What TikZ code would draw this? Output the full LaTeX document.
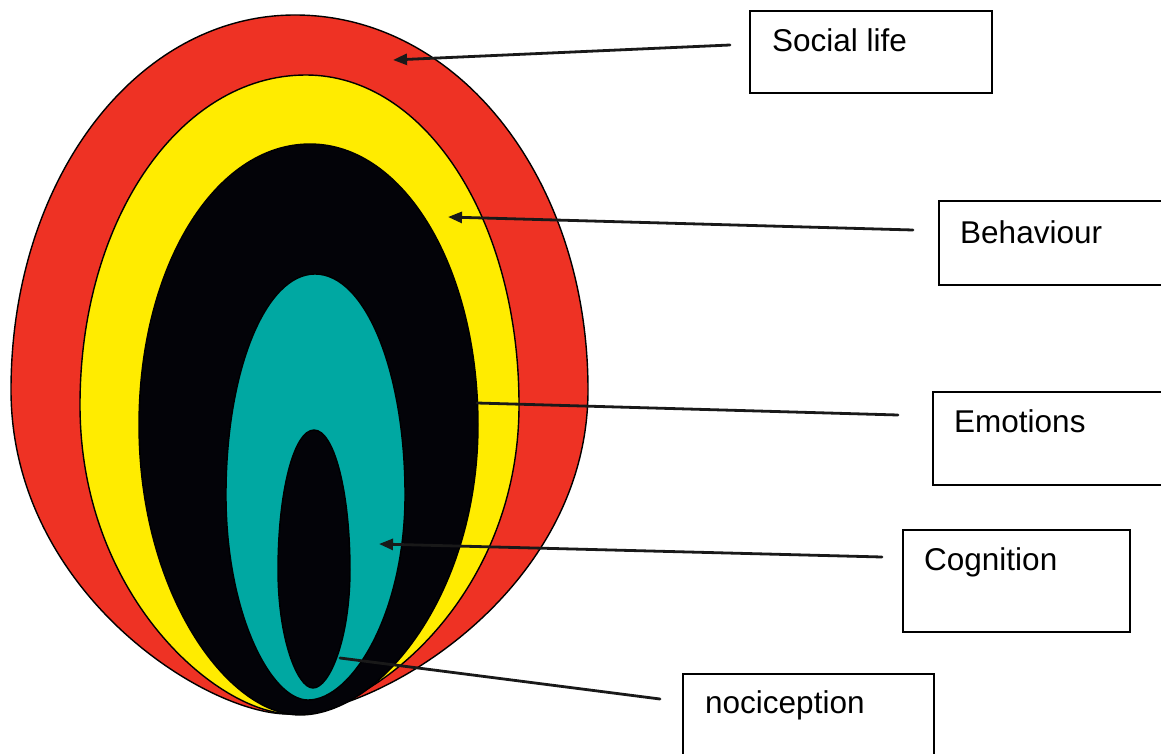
\documentclass[tikz,border=0pt]{standalone}
\usepackage{fontspec}
\setmainfont{Liberation Sans}
\usetikzlibrary{arrows.meta}
\definecolor{eggred}{RGB}{238,50,36}
\definecolor{eggyellow}{RGB}{255,236,0}
\definecolor{eggteal}{RGB}{0,168,162}
\definecolor{eggblack}{RGB}{3,3,8}
% lower-half handle factors (side, bottom)
\newcommand\eggSide{0.58}
\newcommand\eggBot{0.45}
\newcommand\eggshape[8]{%
  \pgfmathsetmacro\eggUa{#2-0.56*(#2-#4)}%
  \pgfmathsetmacro\eggUb{#5-0.56*(#5-#3)}%
  \pgfmathsetmacro\eggLa{#5+\eggSide*(#8-#5)}%
  \pgfmathsetmacro\eggLb{#7-\eggBot*(#7-#4)}%
  \pgfmathsetmacro\eggLc{#7+\eggBot*(#6-#7)}%
  \pgfmathsetmacro\eggUc{#2+0.56*(#6-#2)}%
  \path[#1] (#2,#3) .. controls (\eggUa,#3) and (#4,\eggUb) .. (#4,#5)
    .. controls (#4,\eggLa) and (\eggLb,#8) .. (#7,#8)
    .. controls (\eggLc,#8) and (#6,\eggLa) .. (#6,#5)
    .. controls (#6,\eggUb) and (\eggUc,#3) .. cycle;}
\tikzset{
  layer/.style={draw=black, line width=1.4pt, fill=#1},
  labelbox/.style={draw=black, line width=2.4pt, rectangle, inner sep=0pt, anchor=north west},
  labeltext/.style={anchor=base west, inner sep=0pt, font=\fontsize{31.5}{38}\selectfont},
  pointer/.style={draw=black!90, line width=2.8pt, line cap=round},
  pointerarrow/.style={pointer, -{Triangle[length=14pt,width=11pt]}}
}
\begin{document}
\begin{tikzpicture}[x=1pt,y=-1pt]
\useasboundingbox (0,0) rectangle (1161,754);
\clip (0,0) rectangle (1161,754);
\fill[white] (0,0) rectangle (1161,754);
% nested layers
\renewcommand\eggSide{0.62}\renewcommand\eggBot{0.3}
\eggshape{layer=eggred}{295}{15}{11}{390}{588}{288}{714}
\renewcommand\eggSide{0.62}\renewcommand\eggBot{0.35}
\eggshape{layer=eggyellow}{306}{75}{80}{405}{519}{292}{714}
\renewcommand\eggSide{0.58}\renewcommand\eggBot{0.45}
\eggshape{layer=eggblack}{310}{144}{139}{425}{478}{300}{715}
\eggshape{layer=eggteal}{315}{274}{226}{495}{405}{308}{700}
\eggshape{layer=eggblack}{314}{430}{278}{570}{350}{313}{688}
% label boxes
\node[labelbox, minimum width=242pt, minimum height=82pt] (soc) at (749,10) {};
\node[labeltext] (soctext) at (772,52) {Social life};
\node[labelbox, minimum width=240pt, minimum height=84pt] (beh) at (938,200) {};
\node[labeltext] (behtext) at (960,243) {Behaviour};
\node[labelbox, minimum width=240pt, minimum height=93pt] (emo) at (932,391) {};
\node[labeltext] (emotext) at (954,432) {Emotions};
\node[labelbox, minimum width=227pt, minimum height=102pt] (cog) at (902,529) {};
\node[labeltext] (cogtext) at (924,570) {Cognition};
\node[labelbox, minimum width=251pt, minimum height=95pt] (noc) at (682,673) {};
\node[labeltext] (noctext) at (705,713) {nociception};
% connector ends
\coordinate (socS) at (730,45);   \coordinate (socE) at (393,60);
\coordinate (behS) at (913,230);  \coordinate (behE) at (448,217);
\coordinate (emoS) at (898,415);  \coordinate (emoE) at (477,403);
\coordinate (cogS) at (882,557);  \coordinate (cogE) at (379,544);
\coordinate (nocS) at (660,699);  \coordinate (nocE) at (340,658);
\draw[pointerarrow] (socS) -- (socE);
\draw[pointerarrow] (behS) -- (behE);
\draw[pointer] (emoS) -- (emoE);
\draw[pointerarrow] (cogS) -- (cogE);
\draw[pointer] (nocS) -- (nocE);
\end{tikzpicture}
\end{document}
